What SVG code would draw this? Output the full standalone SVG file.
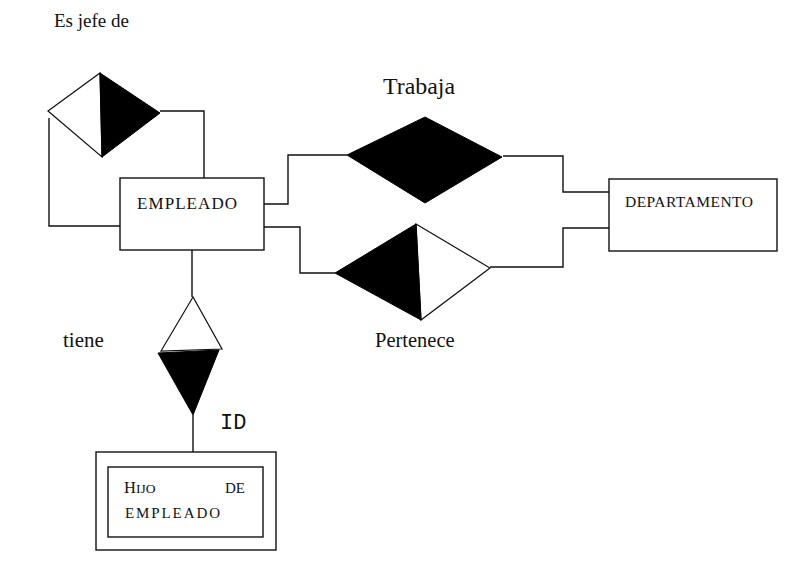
<svg xmlns="http://www.w3.org/2000/svg" width="811" height="588" viewBox="0 0 811 588">
<style>
.ln{fill:none;stroke:#111;stroke-width:1.4}
.box{fill:#fff;stroke:#111;stroke-width:1.4}
.wt{fill:#fff;stroke:#111;stroke-width:1.2;stroke-linejoin:miter}
.bk{fill:#000;stroke:#000;stroke-width:1}
.serif{font-family:"Liberation Serif","Times New Roman",serif;fill:#111}
.mono{font-family:"Liberation Mono","Courier New",monospace;fill:#111}
</style>
<rect width="811" height="588" fill="#fff"/>
<g id="connectors">
<polyline class="ln" points="160,111 204,111 204,178"/>
<polyline class="ln" points="49,118 49,226 120,226"/>
<polyline class="ln" points="264,204 288,204 288,155 347,155"/>
<polyline class="ln" points="503,156 563,156 563,192 609,192"/>
<polyline class="ln" points="264,227 300,227 300,273 335,273"/>
<polyline class="ln" points="490,267 563,267 563,228 609,228"/>
<line class="ln" x1="192" y1="250" x2="192" y2="297"/>
<line class="ln" x1="193" y1="415" x2="193" y2="452"/>
</g>
<g id="es-jefe-de">
<polygon class="wt" points="48,111 100,73 102,157"/>
<polygon class="bk" points="100,73 160,113 102,157"/>
<text class="serif" x="54" y="27" font-size="19">Es jefe de</text>
</g>
<g id="empleado">
<rect class="box" x="120" y="178" width="144" height="72"/>
<text class="serif" x="137" y="209" font-size="17" textLength="100" lengthAdjust="spacing">EMPLEADO</text>
</g>
<g id="trabaja">
<polygon class="bk" points="347,155 425,117 502,157 425,203"/>
<text class="serif" x="383" y="94" font-size="24" textLength="72" lengthAdjust="spacingAndGlyphs">Trabaja</text>
</g>
<g id="pertenece">
<polygon class="wt" points="416,224 490,268 421,320"/>
<polygon class="bk" points="335,273 416,224 421,320"/>
<text class="serif" x="375" y="347" font-size="20.5">Pertenece</text>
</g>
<g id="departamento">
<rect class="box" x="609" y="179" width="168" height="72"/>
<text class="serif" x="625" y="207" font-size="15.5" textLength="128" lengthAdjust="spacing">DEPARTAMENTO</text>
</g>
<g id="tiene">
<polygon class="wt" points="193,297 161,351 222,349"/>
<polygon class="bk" points="158,353 219,350 193,415"/>
<text class="serif" x="63" y="347" font-size="21">tiene</text>
<text class="mono" x="220" y="429" font-size="22">ID</text>
</g>
<g id="hijo-de-empleado">
<rect class="box" x="96" y="452" width="180" height="98"/>
<rect class="box" x="108" y="467" width="155" height="70"/>
<text class="serif" x="124" y="493" font-size="16.5">H<tspan font-size="13.5">IJO</tspan></text>
<text class="serif" x="225" y="493" font-size="15">DE</text>
<text class="serif" x="125" y="518" font-size="15" textLength="95" lengthAdjust="spacing">EMPLEADO</text>
</g>
</svg>
